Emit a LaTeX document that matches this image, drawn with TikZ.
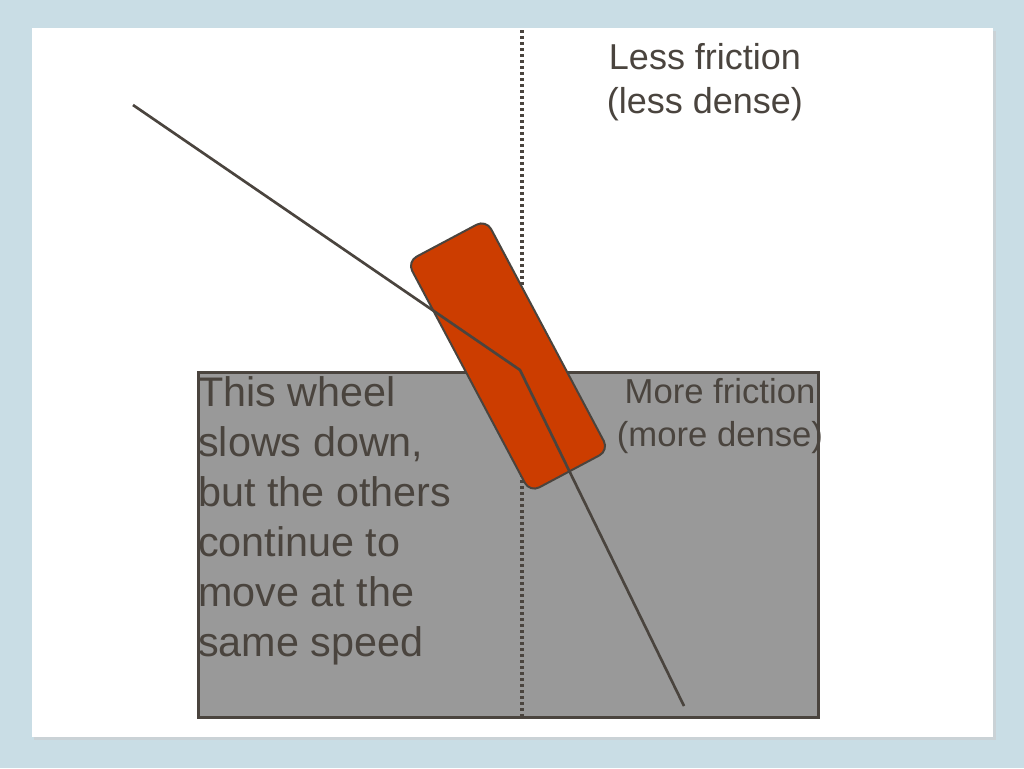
\documentclass[tikz,border=0pt]{standalone}
\usepackage{fontspec}
\setmainfont{Liberation Sans}
\begin{document}
\begin{tikzpicture}[x=0.75pt,y=-0.75pt]
\definecolor{bg}{HTML}{C9DDE5}
\definecolor{ink}{HTML}{4A443E}
\definecolor{gr}{HTML}{999999}
\definecolor{rd}{HTML}{CC3D00}
\tikzset{txt/.style={text=ink,align=left,inner sep=0pt}}
\fill[bg] (0,0) rectangle (1024,768);
\useasboundingbox (0,0) rectangle (1024,768);
\fill[black!20,opacity=0.6] (34,31) rectangle (996,740);
\fill[white] (32,28) rectangle (993,737);
\node[draw=ink,line width=2pt,fill=gr,inner sep=0pt,anchor=north west,minimum width=465pt,minimum height=258.75pt] (ground) at (197,371) {};
\draw[ink,line width=2.5pt,dotted] (522,30) -- (522,716);
\coordinate (s) at (133,105);
\coordinate (m) at (520,370);
\coordinate (e) at (684,706);
\node[draw=ink,line width=1.5pt,fill=rd,rounded corners=8pt,minimum width=67pt,minimum height=196pt,rotate=28] (wheel) at (508,356) {};
\draw[ink,line width=2pt] (s) -- (m) -- (e);
\node[txt,align=center,font=\fontsize{27}{33}\selectfont] (t1) at (705,82) {Less friction\\(less dense)};
\node[txt,anchor=north west,font=\fontsize{31}{37.5}\selectfont] (t2) at (198,376) {This wheel\\slows down,\\but the others\\continue to\\move at the\\same speed};
\node[txt,align=center,font=\fontsize{26}{32}\selectfont] (t3) at (720,416) {More friction\\(more dense)};
\end{tikzpicture}
\end{document}
